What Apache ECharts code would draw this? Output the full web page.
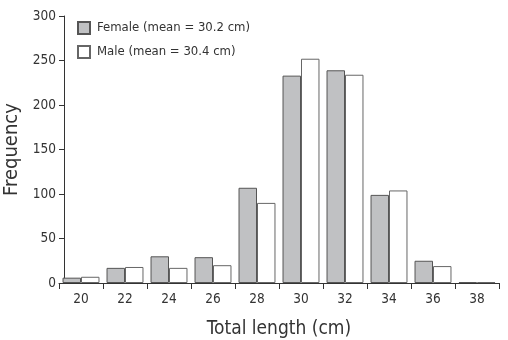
<!DOCTYPE html>
<html>
<head>
<meta charset="utf-8">
<script src="https://cdn.jsdelivr.net/npm/echarts@6/dist/echarts.min.js"></script>
<style>
  html, body { margin: 0; padding: 0; background: #fff; }
  #chart { width: 508px; height: 340px; }
</style>
</head>
<body>
<div id="chart"></div>
<script>
// total length classes (cm)
const lengths = ['20', '22', '24', '26', '28', '30', '32', '34', '36', '38']
// frequencies
const female = [6, 17, 30, 29, 107, 233, 239, 99, 25, 1]
const male = [7, 18, 17, 20, 90, 252, 234, 104, 19, 1]
const yTicks = [0, 50, 100, 150, 200, 250, 300]

const font = '"DejaVu Sans Condensed", Roboto, sans-serif'
const axisColor = '#333'
const textColor = '#333'

const chart = echarts.init(document.getElementById('chart'), null, { renderer: 'canvas' })

chart.setOption({
  animation: false,
  textStyle: { fontFamily: font },
  grid: { left: 59, right: 9, top: 16, bottom: 57, containLabel: false, outerBoundsMode: 'none' },
  legend: {
    left: 72,
    top: 16,
    orient: 'vertical',
    itemWidth: 12,
    itemHeight: 12,
    itemGap: 10,
    icon: 'rect',
    textStyle: { fontFamily: font, fontSize: 13, color: textColor, padding: [0, 0, 0, 2] },
    data: ['Female (mean = 30.2 cm)', 'Male (mean = 30.4 cm)']
  },
  xAxis: {
    type: 'category',
    data: lengths,
    name: 'Total length (cm)',
    nameLocation: 'middle',
    nameGap: 37,
    nameTextStyle: { fontFamily: font, fontSize: 19, color: textColor },
    axisLine: { lineStyle: { color: axisColor, width: 1 } },
    axisTick: {
      show: true,
      length: 6,
      interval: 0,
      lineStyle: { color: axisColor, width: 1 }
    },
    axisLabel: { fontFamily: font, fontSize: 13.5, color: textColor, margin: 9 }
  },
  yAxis: {
    type: 'value',
    min: yTicks[0],
    max: yTicks[yTicks.length - 1],
    interval: 50,
    offset: -5,
    name: 'Frequency',
    nameLocation: 'middle',
    nameGap: 33,
    nameTextStyle: { fontFamily: font, fontSize: 20, color: textColor },
    splitLine: { show: false },
    axisLine: { show: true, lineStyle: { color: axisColor, width: 1 } },
    axisTick: { show: true, length: 5, lineStyle: { color: axisColor } },
    axisLabel: { fontFamily: font, fontSize: 13.5, color: textColor, margin: 8 }
  },
  series: [
    {
      name: 'Female (mean = 30.2 cm)',
      type: 'bar',
      data: female,
      barGap: '0%',
      barCategoryGap: '16%',
      itemStyle: { color: '#c0c1c3', borderColor: '#555', borderWidth: 1 }
    },
    {
      name: 'Male (mean = 30.4 cm)',
      type: 'bar',
      data: male,
      barGap: '0%',
      barCategoryGap: '16%',
      itemStyle: { color: '#ffffff', borderColor: '#666', borderWidth: 1 }
    }
  ]
})
</script>
</body>
</html>
